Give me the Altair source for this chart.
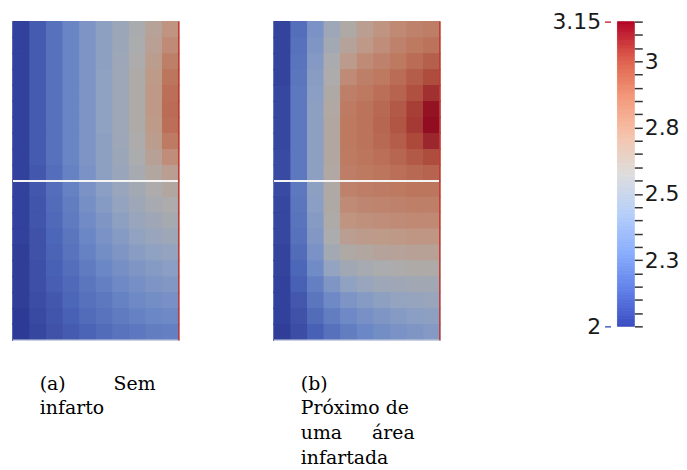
import altair as alt
import numpy as np
import pandas as pd

# ---- field values (rows top -> bottom, cols left -> right)
panel_a = [
    [2.02, 2.11, 2.19, 2.27, 2.35, 2.42, 2.49, 2.56, 2.65, 2.74],
    [2.02, 2.11, 2.19, 2.27, 2.35, 2.42, 2.49, 2.57, 2.67, 2.78],
    [2.02, 2.11, 2.19, 2.27, 2.35, 2.42, 2.50, 2.58, 2.69, 2.83],
    [2.02, 2.11, 2.19, 2.27, 2.35, 2.43, 2.50, 2.59, 2.71, 2.87],
    [2.02, 2.11, 2.19, 2.27, 2.35, 2.43, 2.50, 2.59, 2.72, 2.89],
    [2.02, 2.11, 2.19, 2.27, 2.35, 2.43, 2.50, 2.59, 2.72, 2.90],
    [2.02, 2.11, 2.19, 2.27, 2.35, 2.43, 2.50, 2.59, 2.71, 2.89],
    [2.02, 2.11, 2.19, 2.27, 2.35, 2.42, 2.50, 2.58, 2.69, 2.85],
    [2.02, 2.11, 2.19, 2.27, 2.35, 2.42, 2.49, 2.57, 2.66, 2.77],
    [2.02, 2.10, 2.18, 2.26, 2.34, 2.42, 2.48, 2.55, 2.62, 2.68],
    [2.02, 2.10, 2.18, 2.26, 2.34, 2.41, 2.47, 2.53, 2.58, 2.62],
    [2.02, 2.09, 2.17, 2.24, 2.32, 2.39, 2.45, 2.50, 2.55, 2.58],
    [2.02, 2.09, 2.16, 2.23, 2.30, 2.36, 2.42, 2.47, 2.51, 2.54],
    [2.02, 2.08, 2.15, 2.21, 2.28, 2.34, 2.39, 2.44, 2.47, 2.50],
    [2.01, 2.08, 2.14, 2.20, 2.26, 2.31, 2.36, 2.40, 2.43, 2.45],
    [2.01, 2.07, 2.13, 2.18, 2.23, 2.28, 2.32, 2.36, 2.39, 2.41],
    [2.01, 2.07, 2.12, 2.16, 2.21, 2.25, 2.29, 2.32, 2.35, 2.37],
    [2.01, 2.06, 2.10, 2.15, 2.19, 2.22, 2.26, 2.29, 2.31, 2.33],
    [2.00, 2.05, 2.09, 2.13, 2.17, 2.20, 2.23, 2.26, 2.28, 2.29],
    [2.00, 2.04, 2.08, 2.11, 2.14, 2.17, 2.20, 2.22, 2.24, 2.25],
]
panel_b = [
    [2.03, 2.18, 2.34, 2.50, 2.60, 2.68, 2.74, 2.79, 2.82, 2.84],
    [2.03, 2.19, 2.36, 2.53, 2.64, 2.72, 2.77, 2.82, 2.86, 2.88],
    [2.03, 2.20, 2.38, 2.56, 2.70, 2.78, 2.82, 2.86, 2.90, 2.94],
    [2.03, 2.21, 2.40, 2.58, 2.78, 2.83, 2.86, 2.90, 2.95, 3.00],
    [2.04, 2.22, 2.41, 2.60, 2.83, 2.86, 2.89, 2.93, 2.99, 3.06],
    [2.04, 2.22, 2.42, 2.61, 2.85, 2.88, 2.91, 2.96, 3.03, 3.12],
    [2.04, 2.22, 2.42, 2.62, 2.86, 2.88, 2.92, 2.97, 3.04, 3.13],
    [2.04, 2.22, 2.42, 2.62, 2.86, 2.88, 2.91, 2.95, 3.01, 3.08],
    [2.05, 2.22, 2.42, 2.62, 2.85, 2.87, 2.89, 2.92, 2.96, 3.00],
    [2.05, 2.22, 2.42, 2.61, 2.84, 2.86, 2.87, 2.89, 2.91, 2.93],
    [2.05, 2.22, 2.42, 2.60, 2.82, 2.84, 2.85, 2.86, 2.87, 2.87],
    [2.04, 2.21, 2.41, 2.60, 2.78, 2.80, 2.81, 2.82, 2.83, 2.83],
    [2.04, 2.20, 2.39, 2.59, 2.74, 2.76, 2.77, 2.78, 2.79, 2.79],
    [2.04, 2.19, 2.37, 2.57, 2.68, 2.70, 2.71, 2.72, 2.73, 2.73],
    [2.03, 2.17, 2.34, 2.53, 2.60, 2.62, 2.64, 2.65, 2.66, 2.66],
    [2.03, 2.15, 2.30, 2.45, 2.52, 2.55, 2.57, 2.58, 2.59, 2.59],
    [2.02, 2.13, 2.25, 2.36, 2.43, 2.47, 2.50, 2.51, 2.52, 2.52],
    [2.02, 2.10, 2.21, 2.29, 2.35, 2.39, 2.42, 2.45, 2.46, 2.47],
    [2.02, 2.08, 2.17, 2.24, 2.29, 2.33, 2.36, 2.39, 2.41, 2.42],
    [2.01, 2.06, 2.13, 2.19, 2.24, 2.28, 2.31, 2.34, 2.36, 2.38],
]

cbar_range = [2.0, 3.15]
cbar_end_labels = [2.0, 3.15]
cbar_major_labels = [2.25, 2.5, 2.75, 3.0]
cool_warm = ["#3b4cc0", "#6282ea", "#8db0fe", "#b8d0f9", "#dddddd",
             "#f5c4ad", "#f49a7b", "#de604d", "#b40426"]

caption_a = ["(a)" + "\u00a0" * 8 + "Sem", "infarto"]
caption_b = ["(b)", "Próximo de", "uma" + "\u00a0" * 5 + "área", "infartada"]

# ---- helpers
NROWS, NCOLS = len(panel_a), len(panel_a[0])
SHADE = 0.78  # rendered surface is darker than the colour bar


def shade(hexc, f):
    r, g, b = (int(hexc[i:i + 2], 16) for i in (1, 3, 5))
    return "#%02x%02x%02x" % (round(r * f), round(g * f), round(b * f))


stops = [cbar_range[0] + i * (cbar_range[1] - cbar_range[0]) / (len(cool_warm) - 1)
         for i in range(len(cool_warm))]
bar_scale = alt.Scale(domain=stops, range=cool_warm, interpolate="rgb")
panel_scale = alt.Scale(domain=stops, range=[shade(c, SHADE) for c in cool_warm],
                        interpolate="rgb")


def to_long(grid):
    recs = []
    for r, row in enumerate(grid):
        for c, v in enumerate(row):
            recs.append({"x0": c, "x1": c + 1, "y0": r, "y1": r + 1, "v": v})
    return pd.DataFrame(recs)


def panel(grid, caption):
    df = to_long(grid)
    xs = alt.Scale(domain=[0, NCOLS], nice=False, zero=False)
    ys = alt.Scale(domain=[0, NROWS], nice=False, zero=False, reverse=True)
    enc = dict(
        x=alt.X("x0:Q", scale=xs, axis=None),
        x2="x1:Q",
        y=alt.Y("y0:Q", scale=ys, axis=None),
        y2="y1:Q",
    )
    # under-layer with a stroke fills the seams between cells
    under = alt.Chart(df).mark_rect(strokeWidth=1.5).encode(
        fill=alt.Fill("v:Q", scale=panel_scale, legend=None),
        stroke=alt.Stroke("v:Q", scale=panel_scale, legend=None), **enc)
    cells = alt.Chart(df).mark_rect().encode(
        fill=alt.Fill("v:Q", scale=panel_scale, legend=None), **enc)
    mid = alt.Chart(pd.DataFrame({"y0": [NROWS / 2]})).mark_rule(
        color="#f4f4f4", strokeWidth=2).encode(y="y0:Q")
    bottom = alt.Chart(pd.DataFrame({"y0": [NROWS]})).mark_rule(
        color="#c9d0e2", strokeWidth=1.5).encode(y="y0:Q")
    right = alt.Chart(pd.DataFrame({"x0": [NCOLS]})).mark_rule(
        color="#c23a33", strokeWidth=1.5).encode(x="x0:Q")
    return alt.layer(under, cells, mid, bottom, right).properties(
        width=167, height=321,
        title=alt.TitleParams(text=caption, orient="bottom", anchor="start", dx=28,
                              offset=49, font="DejaVu Serif", fontSize=19,
                              fontWeight="normal", color="black", lineHeight=25,
                              baseline="alphabetic"),
    )


def spacer(w):
    return alt.Chart(pd.DataFrame({"s": [0]})).mark_point(opacity=0).encode(
        x=alt.X("s:Q", axis=None), y=alt.Y("s:Q", axis=None)
    ).properties(width=w, height=10)


# ---- colour bar
lo = np.round(np.arange(0, 115) * 0.01 + cbar_range[0], 2)
cb_df = pd.DataFrame({"lo": lo, "hi": np.round(lo + 0.01, 2),
                      "mid": np.round(lo + 0.005, 3), "bx0": 0, "bx1": 1})
minor_ticks = [round(cbar_range[0] + 0.05 * i, 2) for i in range(24)]
ys_cb = alt.Scale(domain=cbar_range, nice=False, zero=False)
xs_cb = alt.Scale(domain=[0, 1], nice=False, zero=False)
major_str = ", ".join(str(v) for v in cbar_major_labels)

bar = alt.Chart(cb_df).mark_rect(strokeWidth=0.8).encode(
    x=alt.X("bx0:Q", scale=xs_cb, axis=None),
    x2="bx1:Q",
    y=alt.Y("lo:Q", scale=ys_cb, title=None,
            axis=alt.Axis(orient="left", values=cbar_end_labels, offset=7, tickSize=6,
                          tickWidth=1.5, labelPadding=4, domain=False, grid=False,
                          labelExpr="format(datum.value, '~g')",
                          tickColor={"condition": {"test": "datum.value > 3", "value": "#c8323c"},
                                     "value": "#4b5cc8"})),
    y2="hi:Q",
    fill=alt.Fill("mid:Q", scale=bar_scale, legend=None),
    stroke=alt.Stroke("mid:Q", scale=bar_scale, legend=None),
).properties(width=17, height=307)

bar_ticks = alt.Chart(cb_df).mark_rect(opacity=0).encode(
    x=alt.X("bx0:Q", scale=xs_cb, axis=None),
    x2="bx1:Q",
    y=alt.Y("lo:Q", scale=ys_cb, title=None,
            axis=alt.Axis(orient="right", values=minor_ticks, tickSize=8, tickWidth=1.5,
                          offset=-1, tickColor="#333333", labelPadding=2, domain=False,
                          grid=False,
                          labelExpr="indexof([" + major_str + "], datum.value) >= 0 ? format(datum.value, '.2') : ''")),
    y2="hi:Q",
).properties(width=1, height=307)

chart = alt.hconcat(
    panel(panel_a, caption_a), spacer(96), panel(panel_b, caption_b),
    spacer(179), bar, bar_ticks,
    spacing=0, bounds="flush",
).resolve_scale(
    fill="independent", stroke="independent"
).properties(
    padding={"left": 4, "top": 1, "right": 0, "bottom": 0}
).configure_view(strokeWidth=0).configure_axis(
    labelFont="DejaVu Sans", labelFontSize=22, labelColor="#1a1a1a", labelLimit=200
)

chart.save("out.html", embed_options={"renderer": "svg", "actions": False})
